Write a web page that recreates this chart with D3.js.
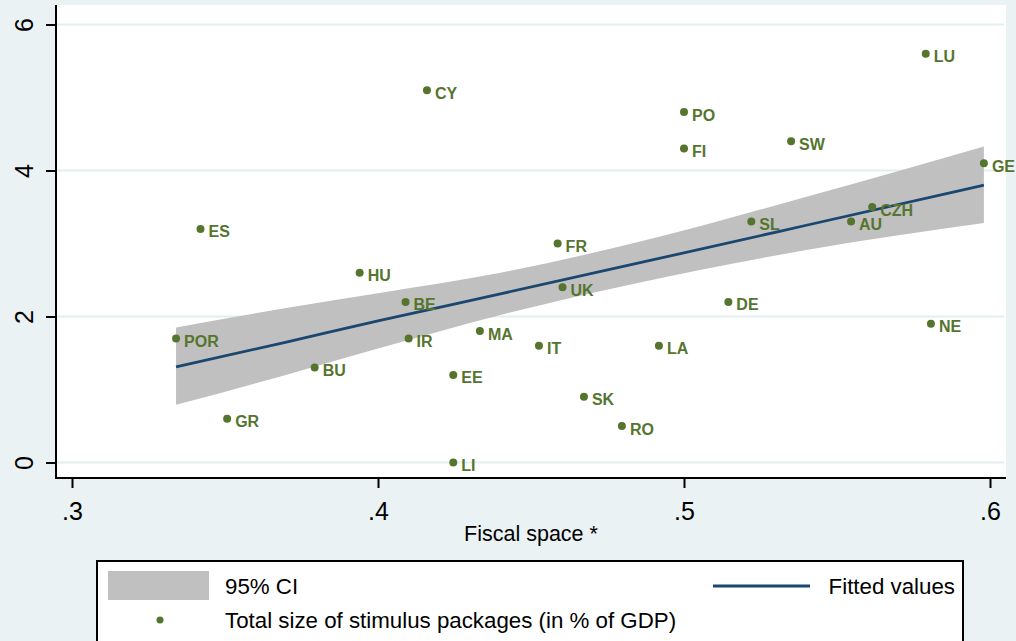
<!DOCTYPE html>
<html>
<head>
<meta charset="utf-8">
<script src="https://cdn.jsdelivr.net/npm/d3@7"></script>
<style>
  html, body { margin: 0; padding: 0; background: #EAF2F3; }
  svg { display: block; }
  text { font-family: "Liberation Sans", Arial, sans-serif; }
</style>
</head>
<body>
<svg id="chart" width="1016" height="641"></svg>
<script>
// ---- Data ----
const countries = ["LU","CY","PO","FI","SW","GE","CZH","SL","AU","ES","FR","HU","UK","BE","DE","NE","POR","IR","MA","IT","LA","BU","EE","SK","RO","GR","LI"];
const fiscalSpace = [0.579,0.416,0.500,0.500,0.535,0.598,0.5615,0.522,0.5546,0.342,0.4587,0.394,0.4603,0.409,0.5145,0.5807,0.334,0.410,0.4333,0.4526,0.4918,0.3793,0.4246,0.4673,0.4797,0.3507,0.4246];
const stimulus = [5.6,5.1,4.8,4.3,4.4,4.1,3.5,3.3,3.3,3.2,3.0,2.6,2.4,2.2,2.2,1.9,1.7,1.7,1.8,1.6,1.6,1.3,1.2,0.9,0.5,0.6,0.0];

// Fitted line and 95% CI band, read at several x positions
const fitX    = [0.334,0.369,0.400,0.440,0.486,0.540,0.598];
const ciUpper = [1.85,2.11,2.32,2.60,3.03,3.64,4.33];
const fitted  = [1.31,1.64,1.94,2.31,2.74,3.25,3.80];
const ciLower = [0.79,1.19,1.56,2.02,2.47,2.91,3.28];

const xTicks = [0.3,0.4,0.5,0.6];
const xTickLabels = [".3",".4",".5",".6"];
const yTicks = [0,2,4,6];
const yTickLabels = ["0","2","4","6"];

const xTitle = "Fiscal space *";
const legendCI = "95% CI";
const legendFit = "Fitted values";
const legendPts = "Total size of stimulus packages (in % of GDP)";

// ---- Layout ----
const svg = d3.select("#chart");
const plot = {left: 56, right: 1006, top: 5, bottom: 478};
const x = d3.scaleLinear().domain([0.3, 0.6]).range([72, 990]);
const y = d3.scaleLinear().domain([0, 6]).range([462.5, 24.5]);

const green = "#55752F", navy = "#1A476F", ciGray = "#C0C0C0", grid = "#E4EEF0";

// background
svg.append("rect").attr("width",1016).attr("height",641).attr("fill","#EAF2F3");
svg.append("rect").attr("x",plot.left).attr("y",plot.top)
  .attr("width",plot.right-plot.left).attr("height",plot.bottom-plot.top).attr("fill","#FFFFFF");

// gridlines
svg.append("g").selectAll("line").data(yTicks).join("line")
  .attr("x1",plot.left).attr("x2",plot.right-2)
  .attr("y1",d=>y(d)).attr("y2",d=>y(d))
  .attr("stroke",grid).attr("stroke-width",2);

// CI band
const bandData = fitX.map((v,i)=>({x:v, lo:ciLower[i], hi:ciUpper[i], f:fitted[i]}));
svg.append("path").datum(bandData)
  .attr("d", d3.area().x(d=>x(d.x)).y0(d=>y(d.lo)).y1(d=>y(d.hi)).curve(d3.curveMonotoneX))
  .attr("fill", ciGray);

// fitted line
svg.append("path").datum(bandData)
  .attr("d", d3.line().x(d=>x(d.x)).y(d=>y(d.f)).curve(d3.curveMonotoneX))
  .attr("fill","none").attr("stroke",navy).attr("stroke-width",2.8);

// points + labels
const pts = countries.map((c,i)=>({c, x:fiscalSpace[i], y:stimulus[i]}));
const gp = svg.append("g");
gp.selectAll("circle").data(pts).join("circle")
  .attr("cx",d=>x(d.x)).attr("cy",d=>y(d.y)).attr("r",4).attr("fill",green);
gp.selectAll("text").data(pts).join("text")
  .attr("x",d=>x(d.x)+8).attr("y",d=>y(d.y)+8.5)
  .attr("fill",green).attr("font-size",16).attr("font-weight","bold")
  .text(d=>d.c);

// y axis
const yAxis = d3.axisLeft(y).tickValues(yTicks).tickSize(10).tickFormat((d,i)=>yTickLabels[i]);
const gy = svg.append("g").attr("transform",`translate(${plot.left},0)`).call(yAxis);
gy.select(".domain").remove();
gy.selectAll(".tick line").attr("stroke","#000").attr("stroke-width",2);
gy.selectAll(".tick text")
  .attr("x",0).attr("y",0).attr("dy",null)
  .attr("transform","translate(-32,0) rotate(-90)")
  .attr("text-anchor","middle").attr("dominant-baseline","central")
  .attr("font-size",25).attr("fill","#000")
  .style("font-family","'Liberation Sans', Arial, sans-serif");

// x axis
const xAxis = d3.axisBottom(x).tickValues(xTicks).tickSize(10).tickFormat((d,i)=>xTickLabels[i]);
const gx = svg.append("g").attr("transform",`translate(0,${plot.bottom})`).call(xAxis);
gx.select(".domain").remove();
gx.selectAll(".tick line").attr("stroke","#000").attr("stroke-width",2);
gx.selectAll(".tick text").attr("y",42).attr("dy",null)
  .attr("font-size",25).attr("fill","#000")
  .style("font-family","'Liberation Sans', Arial, sans-serif");

// axis lines
svg.append("line").attr("x1",plot.left).attr("x2",plot.left).attr("y1",plot.top).attr("y2",plot.bottom+1)
  .attr("stroke","#000").attr("stroke-width",2);
svg.append("line").attr("x1",plot.left-1).attr("x2",plot.right).attr("y1",plot.bottom).attr("y2",plot.bottom)
  .attr("stroke","#000").attr("stroke-width",2);

// x title
svg.append("text").attr("x",(plot.left+plot.right)/2).attr("y",541)
  .attr("text-anchor","middle").attr("font-size",21.5).attr("fill","#000").text(xTitle);

// legend
const lg = svg.append("g");
lg.append("rect").attr("x",97).attr("y",561).attr("width",866).attr("height",100)
  .attr("fill","#fff").attr("stroke","#000").attr("stroke-width",2);
lg.append("rect").attr("x",108).attr("y",571).attr("width",101).attr("height",29).attr("fill",ciGray);
lg.append("text").attr("x",225).attr("y",594).attr("font-size",22.3).text(legendCI);
lg.append("line").attr("x1",713).attr("x2",810).attr("y1",586).attr("y2",586)
  .attr("stroke",navy).attr("stroke-width",2.8);
lg.append("text").attr("x",955).attr("y",594).attr("text-anchor","end").attr("font-size",22.3).text(legendFit);
lg.append("circle").attr("cx",160).attr("cy",620).attr("r",3.5).attr("fill",green);
lg.append("text").attr("x",225).attr("y",628).attr("font-size",22.3).text(legendPts);
</script>
</body>
</html>
